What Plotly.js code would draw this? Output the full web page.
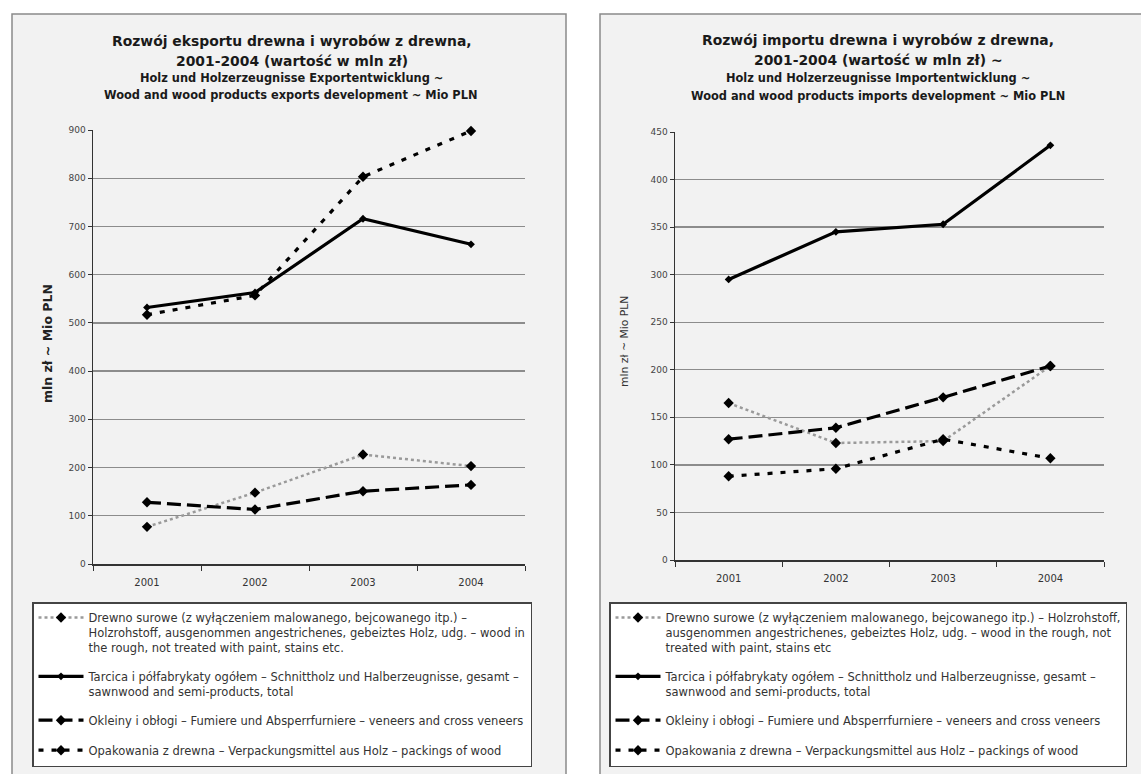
<!DOCTYPE html>
<html>
<head>
<meta charset="utf-8">
<script src="https://cdn.plot.ly/plotly-3.0.1.min.js"></script>
<style>html,body{margin:0;padding:0;background:#fff;}#chart{width:1141px;height:774px;}</style>
</head>
<body>
<div id="chart"></div>
<script>
// ---- data ----
const years = ["2001", "2002", "2003", "2004"];

const exportDrewno = [77, 148, 227, 203];
const exportTarcica = [532, 563, 716, 663];
const exportOkleiny = [128, 113, 151, 164];
const exportOpakowania = [517, 557, 803, 898];

const importDrewno = [165, 123, 125, 204];
const importTarcica = [295, 345, 353, 436];
const importOkleiny = [127, 139, 171, 204];
const importOpakowania = [88, 96, 127, 107];

const namesLeft = [
  "Drewno surowe (z wyłączeniem malowanego, bejcowanego itp.) –<br>Holzrohstoff, ausgenommen angestrichenes, gebeiztes Holz, udg. – wood in<br>the rough, not treated with paint, stains etc.",
  "Tarcica i półfabrykaty ogółem – Schnittholz und Halberzeugnisse, gesamt –<br>sawnwood and semi-products, total",
  "Okleiny i obłogi – Fumiere und Absperrfurniere – veneers and cross veneers",
  "Opakowania z drewna – Verpackungsmittel aus Holz – packings of wood"
];
const namesRight = [
  "Drewno surowe (z wyłączeniem malowanego, bejcowanego itp.) – Holzrohstoff,<br>ausgenommen angestrichenes, gebeiztes Holz, udg. – wood in the rough, not<br>treated with paint, stains etc",
  "Tarcica i półfabrykaty ogółem – Schnittholz und Halberzeugnisse, gesamt –<br>sawnwood and semi-products, total",
  "Okleiny i obłogi – Fumiere und Absperrfurniere – veneers and cross veneers",
  "Opakowania z drewna – Verpackungsmittel aus Holz – packings of wood"
];

const titleLeft = ["Rozwój eksportu drewna i wyrobów z drewna,", "2001-2004 (wartość w mln zł)"];
const subLeft = ["Holz und Holzerzeugnisse Exportentwicklung ~", "Wood and wood products exports development ~ Mio PLN"];
const titleRight = ["Rozwój importu drewna i wyrobów z drewna,", "2001-2004 (wartość w mln zł) ~"];
const subRight = ["Holz und Holzerzeugnisse Importentwicklung ~", "Wood and wood products imports development ~ Mio PLN"];
const yTitle = "mln zł ~ Mio PLN";

// ---- styles ----
const W = 1141, H = 774;
const px = v => v / W;
const py = v => 1 - v / H;
const FONT = "DejaVu Sans, Verdana, sans-serif";

const styles = [
  {line: {color: "#9a9a9a", width: 2.5, dash: "dot"}, marker: {symbol: "diamond", size: 8, color: "#000"}},
  {line: {color: "#000", width: 3.2, dash: "solid"}, marker: {symbol: "diamond", size: 6, color: "#000"}},
  {line: {color: "#000", width: 3.2, dash: "14px,6px"}, marker: {symbol: "diamond", size: 8, color: "#000"}},
  {line: {color: "#000", width: 3.2, dash: "5px,8px"}, marker: {symbol: "diamond", size: 8, color: "#000"}}
];

function mk(vals, i, names, xa, ya, leg) {
  return {
    x: years, y: vals, type: "scatter", mode: "lines+markers", cliponaxis: false,
    name: names[i], xaxis: xa, yaxis: ya, legend: leg, legendgroup: leg + i,
    line: styles[i].line, marker: styles[i].marker
  };
}

const data = [
  mk(exportDrewno, 0, namesLeft, "x", "y", "legend"),
  mk(exportTarcica, 1, namesLeft, "x", "y", "legend"),
  mk(exportOkleiny, 2, namesLeft, "x", "y", "legend"),
  mk(exportOpakowania, 3, namesLeft, "x", "y", "legend"),
  mk(importDrewno, 0, namesRight, "x2", "y2", "legend2"),
  mk(importTarcica, 1, namesRight, "x2", "y2", "legend2"),
  mk(importOkleiny, 2, namesRight, "x2", "y2", "legend2"),
  mk(importOpakowania, 3, namesRight, "x2", "y2", "legend2")
];

const xCommon = {
  type: "category", range: [-0.5, 3.5], tickson: "boundaries", ticks: "outside",
  ticklen: 5, tickcolor: "#333", showline: true, linecolor: "#333", linewidth: 1.5,
  ticklabelstandoff: 8,
  showgrid: false, tickfont: {family: FONT, size: 10, color: "#333"}, fixedrange: true
};
const yCommon = {
  ticks: "outside", ticklen: 4, tickcolor: "#333", showline: true, linecolor: "#333", linewidth: 1.5,
  showgrid: true, gridcolor: "#8c8c8c", gridwidth: 1.3, zeroline: false,
  tickfont: {family: FONT, size: 9, color: "#444"}, fixedrange: true
};
const legCommon = {
  xanchor: "left", yanchor: "top", bgcolor: "#fff", bordercolor: "#444", borderwidth: 1.5,
  font: {family: FONT, size: 11.5, color: "#333"}, itemwidth: 45, tracegroupgap: 11, valign: "top",
  itemclick: false, itemdoubleclick: false
};

function line(text, x, y, size, bold) {
  return {text: bold ? "<b>" + text + "</b>" : text, xref: "paper", yref: "paper",
    x: px(x), y: py(y), xanchor: "center", yanchor: "middle", showarrow: false,
    font: {family: FONT, size: size, color: "#1a1a1a"}};
}

const layout = {
  width: W, height: H, margin: {l: 0, r: 0, t: 0, b: 0},
  paper_bgcolor: "#fff", plot_bgcolor: "#fff", showlegend: true,
  font: {family: FONT},
  xaxis: Object.assign({}, xCommon, {domain: [px(93), px(525)], anchor: "y"}),
  yaxis: Object.assign({}, yCommon, {domain: [py(564), py(130)], range: [0, 900], dtick: 100, anchor: "x"}),
  xaxis2: Object.assign({}, xCommon, {domain: [px(675), px(1104)], anchor: "y2"}),
  yaxis2: Object.assign({}, yCommon, {domain: [py(560), py(132)], range: [0, 450], dtick: 50, anchor: "x2"}),
  legend: Object.assign({}, legCommon, {x: px(32), y: py(602)}),
  legend2: Object.assign({}, legCommon, {x: px(609), y: py(602)}),
  shapes: [
    {type: "rect", xref: "paper", yref: "paper", x0: px(12), x1: px(566), y0: py(790), y1: py(14),
     fillcolor: "#f2f2f2", line: {color: "#8a8a8a", width: 1.5}, layer: "below"},
    {type: "rect", xref: "paper", yref: "paper", x0: px(600), x1: px(1160), y0: py(790), y1: py(14),
     fillcolor: "#f2f2f2", line: {color: "#8a8a8a", width: 1.5}, layer: "below"}
  ],
  annotations: [
    line(titleLeft[0], 292, 41, 13.9, true),
    line(titleLeft[1], 292, 61, 13.9, true),
    line(subLeft[0], 291, 78, 11.4, true),
    line(subLeft[1], 291, 95, 11.4, true),
    line(titleRight[0], 878, 40, 13.9, true),
    line(titleRight[1], 878, 60, 13.9, true),
    line(subRight[0], 878, 78, 11.4, true),
    line(subRight[1], 878, 96, 11.4, true),
    {text: "<b>" + yTitle + "</b>", xref: "paper", yref: "paper", x: px(47), y: py(344), xanchor: "center", yanchor: "middle", textangle: -90,
     showarrow: false, font: {family: FONT, size: 12.5, color: "#222"}},
    {text: yTitle, xref: "paper", yref: "paper", x: px(624), y: py(342), xanchor: "center", yanchor: "middle", textangle: -90,
     showarrow: false, font: {family: FONT, size: 10.8, color: "#333"}}
  ]
};

Plotly.newPlot("chart", data, layout, {displayModeBar: false, staticPlot: true});
</script>
</body>
</html>
